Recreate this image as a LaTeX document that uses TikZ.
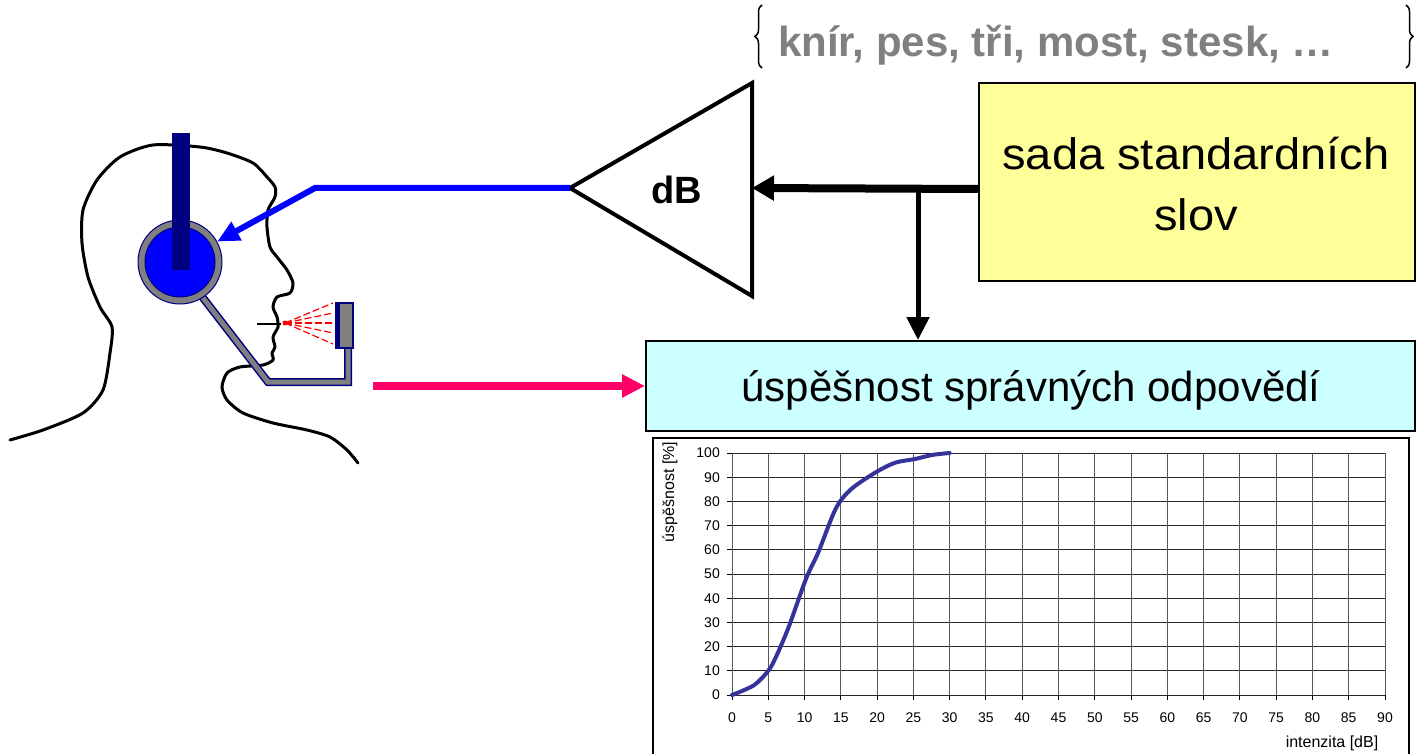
\documentclass[tikz,border=0pt]{standalone}
\usepackage{fontspec}
\setmainfont{Liberation Sans}
\usetikzlibrary{arrows.meta,decorations.pathreplacing}
\definecolor{ylw}{RGB}{255,255,153}
\definecolor{cyn}{RGB}{204,255,255}
\definecolor{pnk}{RGB}{255,0,102}
\definecolor{navyc}{RGB}{0,0,128}
\definecolor{blc}{RGB}{0,0,255}
\definecolor{curvec}{RGB}{51,51,153}
\definecolor{graytxt}{RGB}{128,128,128}
\definecolor{boomgray}{RGB}{128,128,128}
\begin{document}
\begin{tikzpicture}[x=1pt,y=-1pt,
  box/.style={draw, line width=2pt, inner sep=0pt, anchor=north west},
  bigtxt/.style={font=\fontsize{44}{60}\selectfont, inner sep=0pt, anchor=base},
  chartlbl/.style={font=\fontsize{14}{16}\selectfont, inner sep=0pt},
  axtitle/.style={font=\fontsize{16}{18}\selectfont, inner sep=0pt},
  conn/.style={line width=#1},
]
\useasboundingbox (0,0) rectangle (1416,754);

% ---------- head outline ----------
\draw[line width=3pt, line join=round, line cap=round] plot[smooth, tension=0.45] coordinates {
 (10,440) (43,430) (83,413) (103,390) (110,353) (112,327) (100,307) (88,277)
 (82,243) (83,210) (97,180) (120,157) (153,145) (200,147) (227,153) (253,163)
 (267,177) (275,187) (275,197) (268,210) (267,227) (270,247) (277,257) (287,270)
 (293,283) (290,293) (277,297) (273,307) (277,317) (278,327) (273,337) (275,347)
 (272,353) (273,360) (263,365) (240,367) (227,373) (222,387) (227,400) (243,413)
 (273,423) (307,430) (330,437) (347,450) (358,463)};
% mouth
\draw[line width=2.5pt] (257,324) -- (281,324);

% ---------- microphone boom ----------
\coordinate (b1) at (183,272);
\coordinate (b2) at (268,382);
\coordinate (b3) at (348,382);
\coordinate (b4) at (348,346);
\draw[navyc, line width=8pt, line join=miter] (b1) -- (b2) -- (b3) -- (b4);
\draw[boomgray, line width=5pt, line join=miter] (b1) -- (b2) -- (b3) -- (b4);

% ---------- ear cup ----------
\node[circle, draw=navyc, line width=1pt, fill=boomgray, minimum size=84pt, inner sep=0pt] (ear) at (180,262) {};
\node[circle, draw=navyc, line width=1pt, fill=blc, minimum size=70pt, inner sep=0pt] (earin) at (ear.center) {};
\fill[navyc] (172,133) rectangle (190,270);

% ---------- microphone ----------
\node[draw=navyc, line width=1.5pt, fill=boomgray, minimum width=17pt, minimum height=45pt, inner sep=0pt, anchor=north west] (mic) at (335,302) {};
\fill[navyc] (mic.north west) rectangle ([xshift=5pt]mic.south west);
\coordinate (src) at (285,323);
\foreach \yy in {303,313,323,333,344}
  \draw[red, line width=1.2pt, dash pattern=on 7pt off 3pt] (src) -- (333,\yy);
\fill[red] (src) circle (2.5pt);

% ---------- amplifier ----------
\coordinate (ampL) at (570,188);
\coordinate (ampT) at (752,83);
\coordinate (ampB) at (752,296);
\coordinate (ampR) at (752,188);
\draw[line width=4pt, line join=miter] (ampL) -- (ampT) -- (ampB) -- cycle;
\node[font=\bfseries\fontsize{38}{40}\selectfont, inner sep=0pt] (db) at (677,190) {dB};

% ---------- boxes ----------
\node[box, fill=ylw, minimum width=436pt, minimum height=198pt] (words) at (978,82) {};
\node[bigtxt] (w1) at (1196,170) {\scalebox{1.07}[1]{sada standardních}};
\node[bigtxt] (w2) at (1196,230) {\scalebox{1.07}[1]{slov}};

\node[box, fill=cyn, minimum width=769pt, minimum height=90pt] (score) at (645,340) {};
\node[bigtxt, font=\fontsize{42}{50}\selectfont] (s1) at (1031,401) {úspěšnost správných odpovědí};

% ---------- word list ----------
\node[font=\bfseries\fontsize{42}{44}\selectfont, text=graytxt, anchor=base west, inner sep=0pt] (list) at (778,57) {knír, pes, tři, most, stesk, …};
\draw[line width=1.5pt, decorate, decoration={brace, amplitude=7pt}] (762,68) -- (762,5);
\draw[line width=1.5pt, decorate, decoration={brace, amplitude=7pt}] (1406,5) -- (1406,68);

% ---------- connectors ----------
\coordinate (wout) at ([yshift=-7pt]words.west);
\draw[conn=8pt, -{Triangle[length=22pt,width=24pt]}] (wout) -- (ampR);
\coordinate (br) at (918,188);
\draw[conn=5pt, -{Triangle[length=23pt,width=22pt]}] (br) -- (br |- score.north);
\coordinate (pstart) at (373,386);
\draw[pnk, conn=8pt, -{Triangle[length=23pt,width=22pt]}] (pstart) -- (pstart -| score.west);
\coordinate (bend) at (315,188);
\draw[blc, conn=6pt, line join=miter, -{Triangle[length=22pt,width=20pt]}] (ampL) -- (bend) -- (ear);

% ---------- chart ----------
\node[box, fill=white, minimum width=756pt, minimum height=340pt] (chart) at (652,437) {};
\node[axtitle, rotate=90] (ylab) at (670,492) {úspěšnost [\%]};
\node[axtitle] (xlab) at (1332,743) {intenzita [dB]};
\begin{scope}[shift={(732,695)}, x=7.2556pt, y=2.42pt]
  \foreach \yy in {0,10,...,100} {
    \draw[black!85, line width=1pt] (0,\yy) -- (90,\yy);
    \draw[line width=1pt] (0,\yy) -- ++(-5pt,0);
    \node[chartlbl, anchor=east] at ([xshift=-12pt]0,\yy) {\yy};
  }
  \foreach \xx in {0,5,...,90} {
    \draw[black!65, line width=1pt] (\xx,0) -- (\xx,100);
    \draw[line width=1pt] (\xx,0) -- ++(0,-5pt);
    \node[chartlbl] at ([yshift=-23pt]\xx,0) {\xx};
  }
  \draw[curvec, line width=4pt, line join=round, line cap=round] plot[smooth, tension=0.5] coordinates {
    (0,0) (3,4) (5,10) (6.1,16) (7.8,28) (10.2,48) (11.9,59) (14.3,77)
    (16.4,85) (19.8,92) (22.5,96) (25.2,97.5) (27.6,99.2) (30,100)};
\end{scope}
\end{tikzpicture}
\end{document}
